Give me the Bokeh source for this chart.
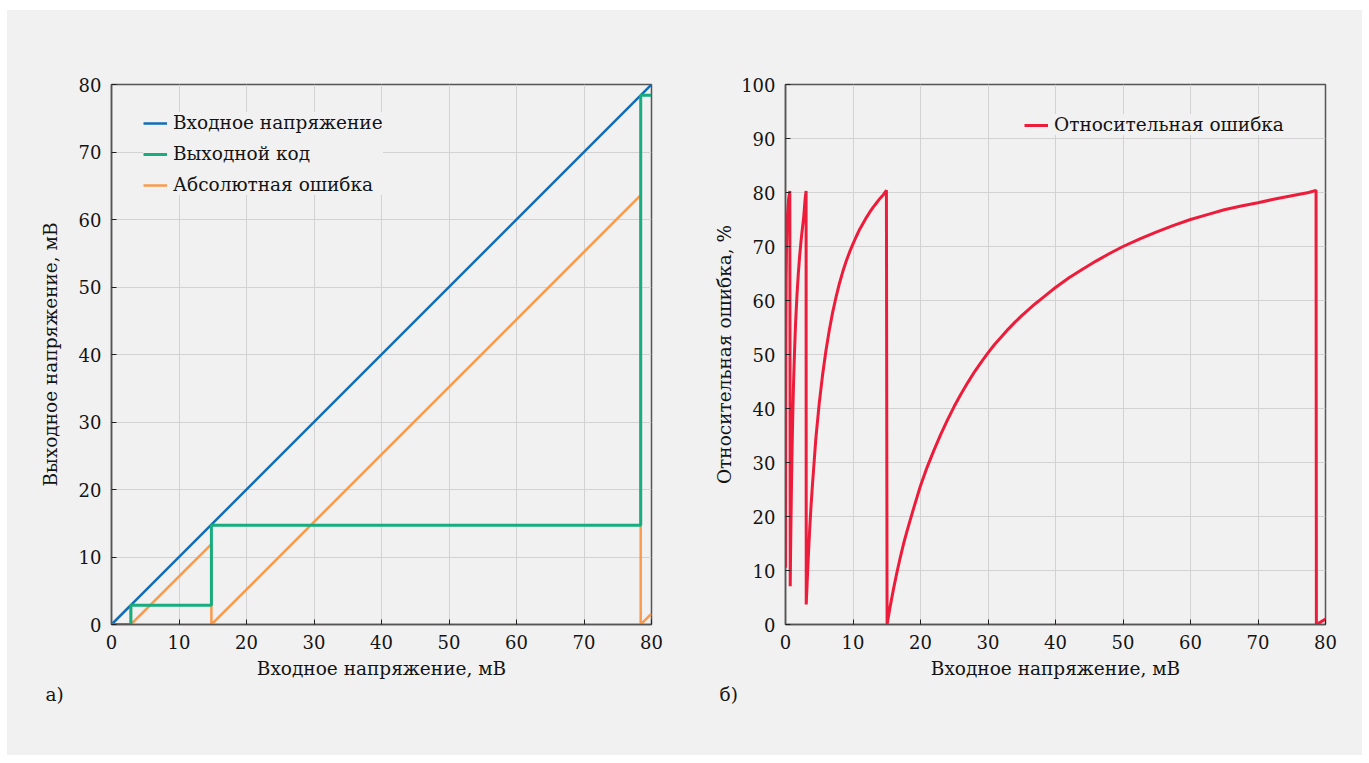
from bokeh.plotting import figure
from bokeh.layouts import row
from bokeh.models import Range1d, FixedTicker, Legend, LegendItem, Title
from bokeh.embed import file_html
from bokeh.resources import INLINE

# ---------------- data ----------------
vin_x = [0, 80]
vin_y = [0, 80]

code_x = [0, 2.87, 2.87, 14.8, 14.8, 78.4, 78.4, 80]
code_y = [0, 0, 2.85, 2.85, 14.7, 14.7, 78.4, 78.4]

abs_x = [0, 2.87, 2.87, 14.8, 14.8, 78.4, 78.4, 80]
abs_y = [0, 2.87, 0, 11.9, 0, 63.6, 0, 1.6]

rel_x = [0.02, 0.04, 0.06, 0.1, 0.15, 0.2, 0.3, 0.45, 0.64,
         0.70, 0.75, 0.8, 0.9, 1.0, 1.1, 1.2, 1.35, 1.5, 1.7, 1.9, 2.1, 2.3,
         2.5, 2.7, 2.9, 3.05,
         3.07, 3.2, 3.4, 3.6, 3.8, 4.0, 4.5, 5.0, 5.5, 6.0, 6.5, 7.0, 7.5, 8.0,
         8.5, 9.0, 9.5, 10.0, 10.5, 11.0, 11.5, 12.0, 12.5, 13.0, 13.5, 14.0,
         14.5, 14.95,
         15.05, 15.5, 16, 16.5, 17, 17.5, 18, 19, 20, 21, 22, 23, 24, 25, 26,
         27, 28, 29, 30, 31, 32, 33, 34, 35, 36, 37, 38, 39, 40, 42, 44, 46,
         48, 50, 52.5, 55, 57.5, 60, 62.5, 65, 67.5, 70, 72.5, 75, 77.5, 78.6,
         78.65, 80]
rel_y = [10.5, 38, 52, 64, 70, 73, 76, 78.7, 80.3,
         7.1, 13, 18, 27, 34, 40, 45, 51, 56, 61, 65, 68.3, 71,
         73.3, 75.5, 78.7, 80.3,
         3.7, 7.5, 13, 18, 22.3, 26, 34.5, 41, 46.3, 50.8, 54.6, 57.9, 60.7, 63.2,
         65.4, 67.3, 69, 70.5, 71.9, 73.2, 74.3, 75.4, 76.4, 77.3, 78.1, 78.9,
         79.6, 80.4,
         0, 3.3, 6.6, 9.6, 12.4, 15, 17.3, 21.6, 25.7, 29.2, 32.3, 35.2, 37.9,
         40.4, 42.7, 44.8, 46.8, 48.6, 50.3, 51.9, 53.3, 54.7, 56, 57.2, 58.3,
         59.4, 60.4, 61.4, 62.4, 64.2, 65.8, 67.3, 68.7, 70, 71.4, 72.7, 73.9,
         75, 75.9, 76.8, 77.5, 78.1, 78.8, 79.4, 80.0, 80.4,
         0, 1.0]

x_ticks = [0, 10, 20, 30, 40, 50, 60, 70, 80]
y1_ticks = [0, 10, 20, 30, 40, 50, 60, 70, 80]
y2_ticks = [0, 10, 20, 30, 40, 50, 60, 70, 80, 90, 100]

# ---------------- style ----------------
BG = "#f1f1f1"
FONT = "DejaVu Serif"
TXT = "#141414"
BLUE = "#116db5"
GREEN = "#17ad7e"
ORANGE = "#f99a4c"
RED = "#ec1c3a"
TICK_FS = "18px"
LAB_FS = "18.5px"


def style(p, yticks, ylabel, ylab_standoff):
    p.background_fill_color = BG
    p.border_fill_color = BG
    p.outline_line_color = "#555555"
    p.outline_line_width = 1.5
    p.xaxis.ticker = FixedTicker(ticks=x_ticks)
    p.yaxis.ticker = FixedTicker(ticks=yticks)
    for ax in (p.xaxis, p.yaxis):
        ax.major_tick_in = 5
        ax.major_tick_out = 0
        ax.minor_tick_line_color = None
        ax.major_tick_line_color = "#222222"
        ax.axis_line_color = "#555555"
        ax.axis_line_width = 1.5
        ax.major_label_text_font = FONT
        ax.major_label_text_font_size = TICK_FS
        ax.major_label_text_color = TXT
        ax.axis_label_text_font = FONT
        ax.axis_label_text_font_size = LAB_FS
        ax.axis_label_text_font_style = "normal"
        ax.axis_label_text_color = TXT
    p.xaxis.axis_label = "Входное напряжение, мВ"
    p.xaxis.major_label_standoff = 10
    p.xaxis.axis_label_standoff = 6
    p.yaxis.axis_label = ylabel
    p.yaxis.major_label_standoff = 10
    p.yaxis.axis_label_standoff = ylab_standoff
    p.grid.grid_line_color = "#d2d2d2"
    p.grid.grid_line_width = 1


def make_legend(items, loc):
    lg = Legend(items=items, location=loc)
    lg.background_fill_color = BG
    lg.background_fill_alpha = 1.0
    lg.border_line_color = None
    lg.padding = 14
    lg.spacing = 10
    lg.glyph_width = 24
    lg.glyph_height = 20
    lg.label_height = 20
    lg.label_standoff = 6
    lg.label_text_font = FONT
    lg.label_text_font_size = LAB_FS
    lg.label_text_color = TXT
    return lg


def panel_tag(p, text):
    t = Title(text=text, align="left", offset=-66, standoff=0,
              text_font=FONT, text_font_size=LAB_FS, text_font_style="normal",
              text_color=TXT)
    p.add_layout(t, "below")


# ---------------- left ----------------
p1 = figure(width=677, height=745, output_backend="svg", toolbar_location=None,
            x_range=Range1d(0, 80), y_range=Range1d(0, 80),
            min_border_left=104, min_border_right=33, min_border_top=74,
            min_border_bottom=131)
style(p1, y1_ticks, "Выходное напряжение, мВ", 15)

r_abs = p1.line(abs_x, abs_y, line_color=ORANGE, line_width=2.5)
r_vin = p1.line(vin_x, vin_y, line_color=BLUE, line_width=2.5)
r_code = p1.line(code_x, code_y, line_color=GREEN, line_width=3)

lg1 = make_legend([LegendItem(label="Входное напряжение", renderers=[r_vin]),
                   LegendItem(label="Выходной код", renderers=[r_code]),
                   LegendItem(label="Абсолютная ошибка", renderers=[r_abs])],
                  (32, 429))
p1.add_layout(lg1)
panel_tag(p1, "а)")

# ---------------- right ----------------
p2 = figure(width=678, height=745, output_backend="svg", toolbar_location=None,
            x_range=Range1d(0, 80), y_range=Range1d(0, 100),
            min_border_left=101, min_border_right=37, min_border_top=74,
            min_border_bottom=131)
style(p2, y2_ticks, "Относительная ошибка, %", 3)

r_rel = p2.line(rel_x, rel_y, line_color=RED, line_width=3)
lg2 = make_legend([LegendItem(label="Относительная ошибка", renderers=[r_rel])],
                  (239, 489))
p2.add_layout(lg2)
panel_tag(p2, "б)")

layout = row(p1, p2, spacing=0, margin=(10, 7, 8, 7),
             styles={"background-color": BG})
open("out.html", "w").write(file_html(layout, INLINE))
